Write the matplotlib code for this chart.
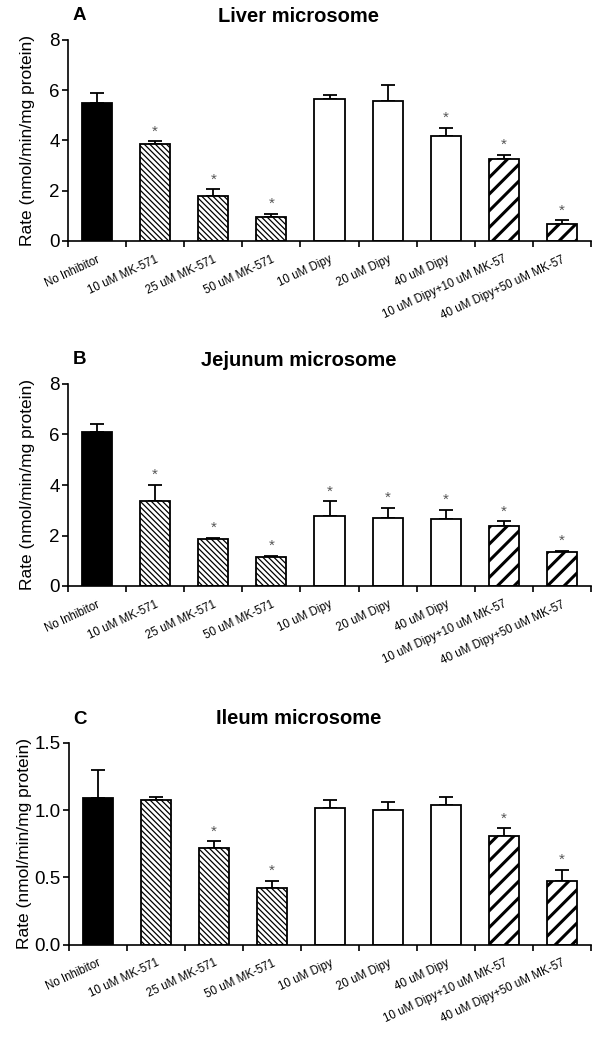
import numpy as np
import matplotlib
matplotlib.use("Agg")
import matplotlib.pyplot as plt
from matplotlib.ticker import FixedLocator, NullFormatter

plt.rcParams["font.family"] = ["Liberation Sans", "DejaVu Sans"]

categories = ["No Inhibitor", "10 uM MK-571", "25 uM MK-571", "50 uM MK-571",
              "10 uM Dipy", "20 uM Dipy", "40 uM Dipy",
              "10 uM Dipy+10 uM MK-57", "40 uM Dipy+50 uM MK-57"]
groups = ["ctrl", "mk", "mk", "mk", "dipy", "dipy", "dipy", "combo", "combo"]

liver_mean = [5.50, 3.85, 1.79, 0.96, 5.64, 5.56, 4.18, 3.27, 0.68]
liver_err = [0.38, 0.12, 0.27, 0.13, 0.19, 0.66, 0.33, 0.17, 0.14]
liver_sig = [0, 1, 1, 1, 0, 0, 1, 1, 1]

jejunum_mean = [6.11, 3.37, 1.86, 1.13, 2.77, 2.71, 2.65, 2.39, 1.33]
jejunum_err = [0.32, 0.63, 0.04, 0.06, 0.58, 0.39, 0.37, 0.17, 0.07]
jejunum_sig = [0, 1, 1, 1, 1, 1, 1, 1, 1]

ileum_mean = [1.087, 1.074, 0.718, 0.421, 1.013, 0.998, 1.035, 0.805, 0.471]
ileum_err = [0.21, 0.023, 0.05, 0.052, 0.061, 0.062, 0.062, 0.061, 0.084]
ileum_sig = [0, 0, 1, 1, 0, 0, 0, 1, 1]

styles = {
    "ctrl": dict(color="black", hatch=None, hlw=1.0),
    "mk": dict(color="white", hatch="\\\\\\\\\\\\", hlw=0.9),
    "dipy": dict(color="white", hatch=None, hlw=1.0),
    "combo": dict(color="white", hatch="//", hlw=2.2),
}


def draw_panel(fig, rect, means, errs, sig, ymax, yticks, letter, title, title_y,
               fmt, label_x):
    ax = fig.add_axes(rect)
    x = np.arange(len(categories)) + 0.5
    for xi, m, e, g in zip(x, means, errs, groups):
        st = styles[g]
        with plt.rc_context({"hatch.linewidth": st["hlw"]}):
            bars = ax.bar(xi, m, width=0.52, color=st["color"], edgecolor="black",
                          linewidth=1.3, hatch=st["hatch"], zorder=2)
        for b in bars:
            if hasattr(b, "set_hatch_linewidth"):
                b.set_hatch_linewidth(st["hlw"])
        ax.errorbar(xi, m, yerr=[[0], [e]], fmt="none", ecolor="black",
                    elinewidth=1.3, capsize=5, capthick=1.3, zorder=1)
    for xi, m, e, s in zip(x, means, errs, sig):
        if s:
            ax.annotate("*", (xi, m + e), xytext=(0, 2), textcoords="offset points",
                        ha="center", va="bottom", fontsize=11, color="#555555")
    ax.set_xlim(0, len(categories))
    ax.set_ylim(0, ymax)
    ax.set_yticks(yticks)
    ax.set_yticklabels([fmt.format(v) for v in yticks])
    ax.xaxis.set_major_locator(FixedLocator(x))
    ax.set_xticklabels(categories, rotation=25, ha="right", rotation_mode="anchor",
                       fontsize=8.3)
    ax.xaxis.set_minor_locator(FixedLocator(np.arange(len(categories) + 1)))
    ax.xaxis.set_minor_formatter(NullFormatter())
    ax.tick_params(axis="x", which="major", length=0, pad=9)
    ax.tick_params(axis="x", which="minor", length=4, width=1.2, direction="out")
    ax.tick_params(axis="y", length=4, width=1.2, direction="out", labelsize=13.5, pad=2)
    for sp in ["top", "right"]:
        ax.spines[sp].set_visible(False)
    for sp in ["left", "bottom"]:
        ax.spines[sp].set_linewidth(1.2)
    ax.set_ylabel("Rate (nmol/min/mg protein)", fontsize=12.5)
    ax.yaxis.set_label_coords(label_x, 0.5)
    fig.text(73 / 614, 1 - title_y / 1050, letter, fontsize=13.5, fontweight="bold",
             ha="left", va="center")
    fig.text(299 / 614, 1 - title_y / 1050, title, fontsize=14.5, fontweight="bold",
             ha="center", va="center")
    return ax


fig = plt.figure(figsize=(6.14, 10.5), dpi=100)
draw_panel(fig, [68 / 614, 1 - 241 / 1050, 523 / 614, 201 / 1050],
           liver_mean, liver_err, liver_sig, 8, [0, 2, 4, 6, 8],
           "A", "Liver microsome", 16, "{:.0f}", -0.063)
draw_panel(fig, [68 / 614, 1 - 586 / 1050, 523 / 614, 202 / 1050],
           jejunum_mean, jejunum_err, jejunum_sig, 8, [0, 2, 4, 6, 8],
           "B", "Jejunum microsome", 360, "{:.0f}", -0.063)
draw_panel(fig, [69 / 614, 1 - 944.7 / 1050, 522 / 614, 202 / 1050],
           ileum_mean, ileum_err, ileum_sig, 1.5, [0.0, 0.5, 1.0, 1.5],
           "C", "Ileum microsome", 719, "{:.1f}", -0.071)

fig.savefig("out.png", dpi=100)
